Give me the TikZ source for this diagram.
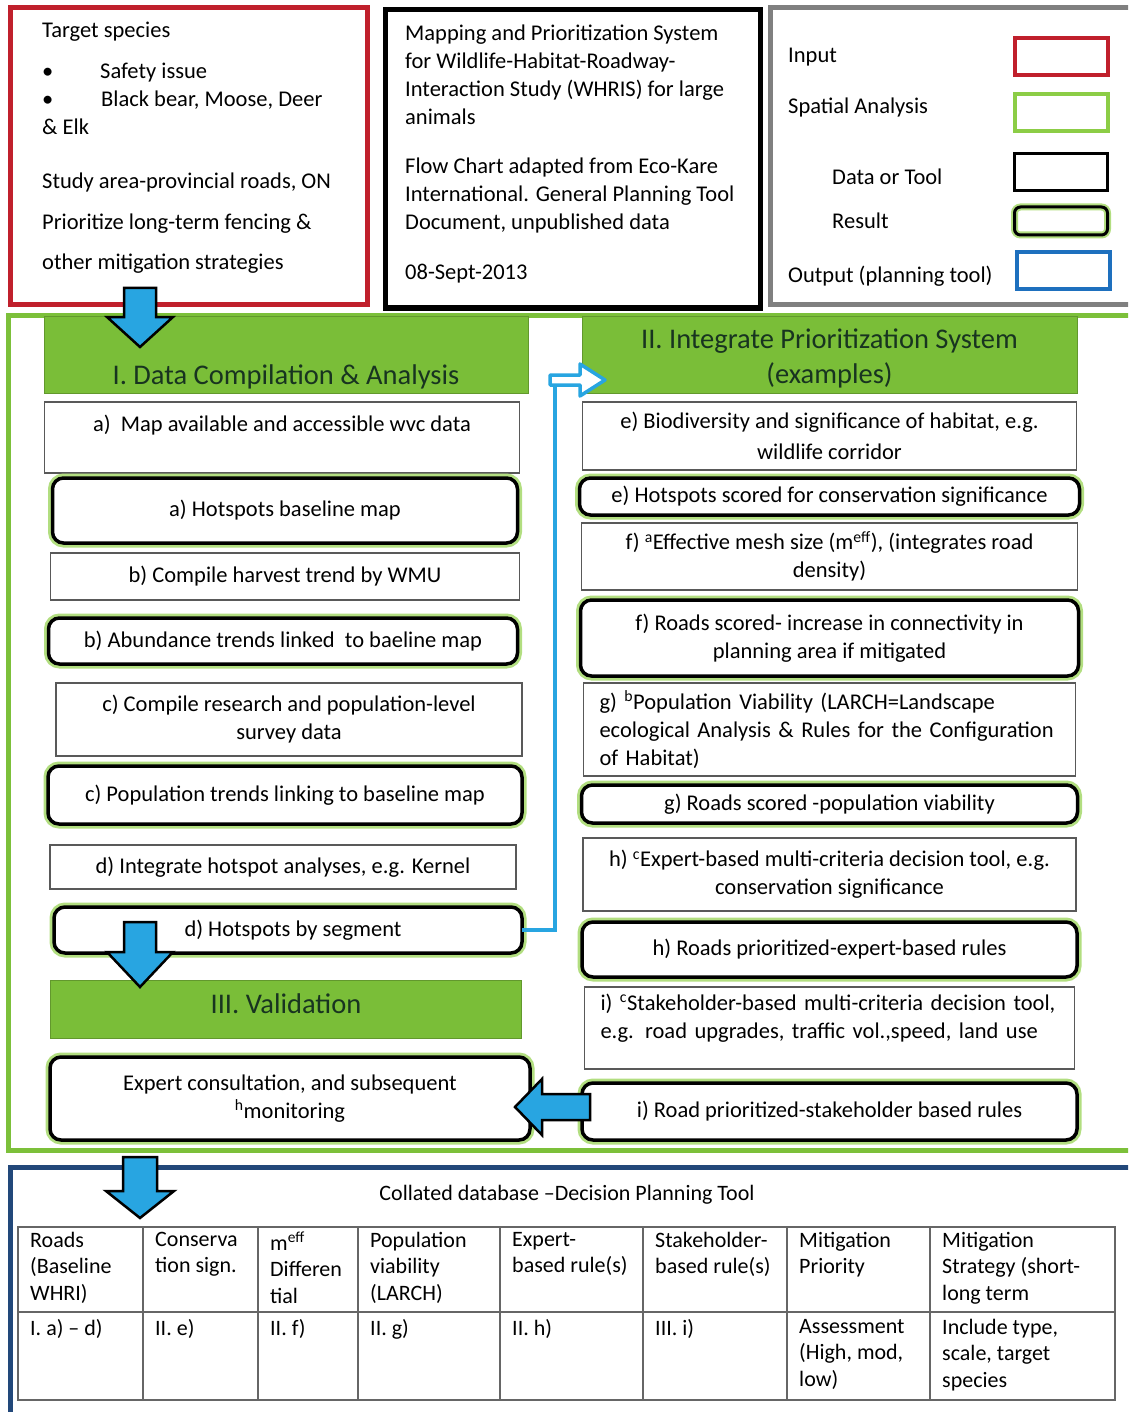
\documentclass[tikz,border=0pt]{standalone}
\usepackage{fontspec}
\setmainfont{Carlito}
\usetikzlibrary{positioning}

\definecolor{inred}{RGB}{192,32,44}
\definecolor{frgreen}{RGB}{124,192,58}
\definecolor{spgreen}{RGB}{140,205,70}
\definecolor{hdgreen}{RGB}{122,190,56}
\definecolor{hdtext}{RGB}{24,52,32}
\definecolor{glow}{RGB}{178,222,128}
\definecolor{outblue}{RGB}{30,112,190}
\definecolor{navy}{RGB}{34,72,122}
\definecolor{arrblue}{RGB}{40,165,225}
\definecolor{legray}{RGB}{128,128,128}

% tip, angle, length, head length, head half width, shaft half width
\newcommand\blockarrow[6]{%
  \draw[fatarrow, shift={#1}, rotate=#2] (0,0) -- (-#4,#5) -- (-#4,#6) -- (-#3,#6)
    -- (-#3,-#6) -- (-#4,-#6) -- (-#4,-#5) -- cycle;}

\begin{document}
\begin{tikzpicture}[x=1pt, y=-1pt, font=\fontsize{22.5}{28}\selectfont]
        \tikzset{datbox/.style={draw=black!65, line width=1.6pt, fill=white, align=center, inner sep=2pt, outer sep=0pt}}
        \tikzset{resbox/.style={draw=black, line width=3.5pt, rounded corners=11pt, fill=white, align=center, inner sep=2pt, outer sep=0pt, preaction={draw=glow, line width=9pt}}}
        \tikzset{hdr/.style={draw=hdgreen!80!black, line width=1pt, fill=hdgreen, outer sep=0pt}}
        \tikzset{hdrtxt/.style={text=hdtext, align=center, inner sep=0pt, font=\fontsize{28.5}{35}\selectfont}}
        \tikzset{frame/.style={line width=5pt, anchor=north west, outer sep=0pt, inner sep=0pt}}
        \tikzset{fatarrow/.style={draw=black, line width=2.5pt, fill=arrblue, line join=miter}}
        \tikzset{link/.style={draw=arrblue, line width=3.5pt}}
        \tikzset{lbl/.style={align=left, inner sep=0pt}}
        \tikzset{cell/.style={align=left, inner sep=0pt, anchor=north west, font=\fontsize{22}{26.5}\selectfont}}
        \tikzset{swatch/.style={line width=4pt, minimum width=93pt, minimum height=37pt, inner sep=0pt}}
        \useasboundingbox (0,0) rectangle (1128,1412);
        \clip (0,0) rectangle (1128,1412);

        % top row
        \node (inp) [frame, draw=inred, minimum width=357pt, minimum height=297pt] at (10,8) {};
        \node (inptxt) [lbl, anchor=north west] at (42,22) {Target species\\[13pt]
            \makebox[58pt][l]{\textbullet}Safety issue\\
            \makebox[59pt][l]{\textbullet}Black bear, Moose, Deer\\
            \& Elk\\[26pt]
            Study area-provincial roads, ON\\[13pt]
            Prioritize long-term fencing \&\\[12pt]
            other mitigation strategies};
        \node (ttl) [frame, draw=black, minimum width=375pt, minimum height=298pt] at (385,10) {};
        \node (ttltxt) [lbl, anchor=north west] at (405,25) {Mapping and Prioritization System\\
            for Wildlife-Habitat-Roadway-\\
            Interaction Study (WHRIS) for large\\
            animals\\[21pt]
            Flow Chart adapted from Eco-Kare\\
            International. General Planning Tool\\
            Document, unpublished data\\[22pt]
            08-Sept-2013};
        \node (leg) [frame, draw=legray, minimum width=420pt, minimum height=297pt] at (770,8) {};
        \node (lgIn) [lbl, anchor=west] at (788,57) {Input};
        \node (lgSp) [lbl, anchor=west] at (788,108) {Spatial Analysis};
        \node (lgDa) [lbl, anchor=west] at (832,177) {Data or Tool};
        \node (lgRe) [lbl, anchor=west] at (832,221) {Result};
        \node (lgOu) [lbl, anchor=west] at (788,276) {Output (planning tool)};
        \node (swIn) [swatch, draw=inred] at (1061,57) {};
        \node (swSp) [swatch, draw=spgreen] at (1061,113) {};
        \node (swDa) [swatch, draw=black, line width=3pt] at (1061,172) {};
        \node (swRe) [swatch, draw=black, line width=3pt, minimum height=28pt, rounded corners=6pt, preaction={draw=glow, line width=7pt}] at (1061,221) {};
        \node (swOu) [swatch, draw=outblue] at (1063,271) {};

        % main green frame
        \node (main) [frame, draw=frgreen, minimum width=1180pt, minimum height=835pt] at (8,315) {};

        % I. data compilation
        \node (hdrI) [hdr, minimum width=484pt, minimum height=77pt, anchor=north west] at (44,316) {};
        \node (hdrIt) [hdrtxt] at ([yshift=-22pt]hdrI.center) {I. Data Compilation \& Analysis};
        \node (a1) [datbox, below=9pt of hdrI, xshift=-4pt, minimum width=475pt, minimum height=71pt] {a)\ \ Map available and accessible wvc data\\\mbox{}};
        \node (a2) [resbox, below=5pt of a1, xshift=3pt, minimum width=465pt, minimum height=65pt] {a) Hotspots baseline map};
        \node (b1) [datbox, below=10pt of a2, minimum width=469pt, minimum height=47pt] {b) Compile harvest trend by WMU};
        \node (b2) [resbox, below=18pt of b1, xshift=-2pt, minimum width=469pt, minimum height=46pt] {b) Abundance trends linked\ \ to baeline map};
        \node (c1) [datbox, below=19pt of b2, xshift=6pt, minimum width=466pt, minimum height=73pt] {c) Compile research and population-level\\survey data};
        \node (c2) [resbox, below=10pt of c1, xshift=-4pt, minimum width=474pt, minimum height=58pt] {c) Population trends linking to baseline map};
        \node (d1) [datbox, below=21pt of c2, xshift=-2pt, minimum width=466pt, minimum height=44pt] {d) Integrate hotspot analyses, e.g. Kernel};
        \node (d2) [resbox, below=18pt of d1, xshift=5pt, minimum width=468pt, minimum height=46pt] {\hspace{10pt}d) Hotspots by segment};
        \node (hdrIII) [hdr, below=27pt of d2, xshift=-2pt, minimum width=471pt, minimum height=58pt] {};
        \node (hdrIIIt) [hdrtxt] at ([yshift=5pt]hdrIII.center) {III. Validation};
        \node (ex) [resbox, below=19pt of hdrIII, xshift=4pt, minimum width=480pt, minimum height=83pt] {Expert consultation, and subsequent\\\textsuperscript{h}monitoring};

        % II. prioritization system
        \node (hdrII) [hdr, minimum width=495pt, minimum height=77pt, anchor=north west] at (582,316) {};
        \node (hdrIIt) [hdrtxt] at ([yshift=-4pt]hdrII.center) {II. Integrate Prioritization System\\(examples)};
        \node (e1) [datbox, below=9pt of hdrII, minimum width=494pt, minimum height=68pt] {e) Biodiversity and significance of habitat, e.g.\\[3pt]wildlife corridor};
        \node (e2) [resbox, below=8pt of e1, minimum width=500pt, minimum height=37pt] {e) Hotspots scored for conservation significance};
        \node (f1) [datbox, below=8pt of e2, minimum width=496pt, minimum height=67pt] {f) \textsuperscript{a}Effective mesh size (m\textsuperscript{eff}), (integrates road\\density)};
        \node (f2) [resbox, below=10pt of f1, minimum width=498pt, minimum height=76pt] {f) Roads scored- increase in connectivity in\\planning area if mitigated};
        \node (g1) [datbox, below=7pt of f2, align=left, inner xsep=16pt, text width=460pt, minimum height=93pt] {g) \textsuperscript{b}Population Viability (LARCH=Landscape\\ecological Analysis \& Rules for the Configuration\\of Habitat)};
        \node (g2) [resbox, below=9pt of g1, minimum width=496pt, minimum height=38pt] {g) Roads scored -population viability};
        \node (h1) [datbox, below=15pt of g2, minimum width=493pt, minimum height=73pt] {h) \textsuperscript{c}Expert-based multi-criteria decision tool, e.g.\\conservation significance};
        \node (h2) [resbox, below=11pt of h1, minimum width=495pt, minimum height=55pt] {h) Roads prioritized-expert-based rules};
        \node (i1) [datbox, below=10pt of h2, align=left, inner xsep=16pt, text width=458pt, minimum height=82pt] {i) \textsuperscript{c}Stakeholder-based multi-criteria decision tool,\\e.g. road upgrades, traffic vol.,speed, land use\\[-4pt]\mbox{}};
        \node (i2) [resbox, below=14pt of i1, minimum width=495pt, minimum height=57pt] {i) Road prioritized-stakeholder based rules};

        % d) -> II
        \coordinate [above left=13pt and 27pt of hdrII.south west] (hook);
        \draw [link] (d2.east) -| (hook);
        \draw [link, fill=white, line join=round, shift={(hook)}] (-5,-5) -- (25,-5) -- (25,-16) -- (50,0) -- (25,16) -- (25,5) -- (-5,5) -- cycle;

        % collated database
        \node (db) [frame, draw=navy, minimum width=1180pt, minimum height=260pt] at (10,1167) {};
        \node (dbttl) [font=\fontsize{22}{26}\selectfont] at (567,1195) {Collated database \textendash Decision Planning Tool};
        \draw [black!60, line width=1.5pt] (18,1227) rectangle (1115,1400);
        \draw [black!60, line width=1.5pt] (18,1312) -- (1115,1312);
        \foreach \cx/\hd/\bd [count=\k] in {
            18/{Roads\\(Baseline\\WHRI)}/{I. a) -- d)},
            143/{Conserva\\tion sign.}/{II. e)},
            258/{m\textsuperscript{eff}\\Differen\\tial}/{II. f)},
            358/{Population\\viability\\(LARCH)}/{II. g)},
            500/{Expert-\\based rule(s)}/{II. h)},
            643/{Stakeholder-\\based rule(s)}/{III. i)},
            787/{Mitigation\\Priority}/{Assessment\\(High, mod,\\low)},
            930/{Mitigation\\Strategy (short-\\long term}/{Include type,\\scale, target\\species}}
        {
            \draw [black!60, line width=1.5pt] (\cx,1227) -- (\cx,1400);
            \node (hd\k) [cell] at (\cx+12,1232) {\hd};
            \node (bd\k) [cell] at (\cx+12,1319) {\bd};
        }

        % block arrows
        \blockarrow{(140,347)}{-90}{59}{30}{33}{16}
        \blockarrow{(140,987)}{-90}{65}{35}{33}{16}
        \blockarrow{(140,1218)}{-90}{61}{27}{34}{17}
        \blockarrow{(515,1107)}{180}{75}{27}{28}{13}
\end{tikzpicture}
\end{document}
